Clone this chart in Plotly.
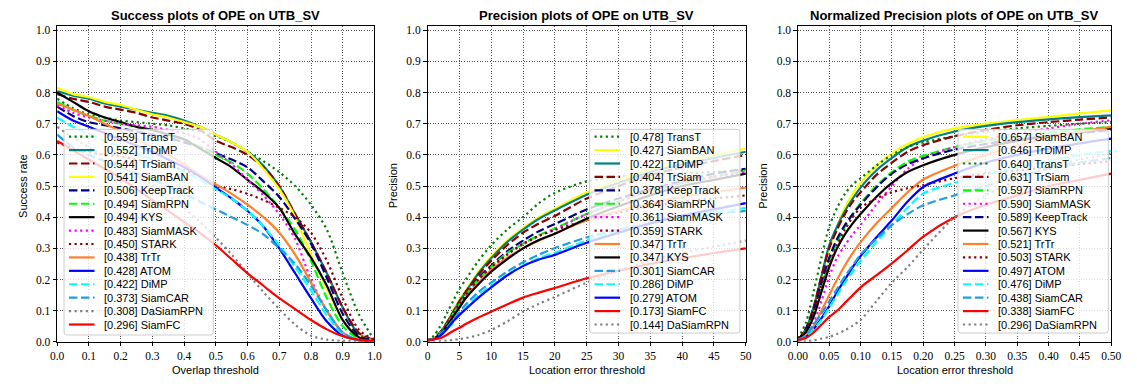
import plotly.graph_objects as go

# ---------------------------------------------------------------- thresholds
succ_x = [0.00, 0.05, 0.10, 0.15, 0.20, 0.25, 0.30, 0.35, 0.40, 0.45, 0.50,
          0.55, 0.60, 0.65, 0.70, 0.75, 0.80, 0.85, 0.90, 0.95, 1.00]
prec_x = [0, 1, 2, 3, 4, 5, 6, 8, 10, 12.5, 15, 17.5, 20, 25, 30, 35, 40, 45, 50]
norm_x = [0, 0.0125, 0.025, 0.0375, 0.05, 0.0625, 0.075, 0.0875, 0.1, 0.125,
          0.15, 0.175, 0.2, 0.25, 0.3, 0.35, 0.4, 0.45, 0.5]

# ---------------------------------------------------------------- success (overlap)
succ_transt = [0.78, 0.75, 0.73, 0.72, 0.71, 0.705, 0.70, 0.695, 0.685, 0.675, 0.66,
               0.64, 0.61, 0.58, 0.545, 0.50, 0.44, 0.36, 0.22, 0.09, 0.005]
succ_trdimp = [0.805, 0.79, 0.78, 0.765, 0.755, 0.745, 0.735, 0.725, 0.71, 0.69, 0.665,
               0.64, 0.61, 0.565, 0.50, 0.41, 0.32, 0.22, 0.11, 0.025, 0.005]
succ_trsiam = [0.795, 0.78, 0.77, 0.755, 0.745, 0.735, 0.72, 0.71, 0.70, 0.68, 0.645,
               0.625, 0.60, 0.56, 0.50, 0.41, 0.32, 0.22, 0.11, 0.03, 0.005]
succ_siamban = [0.815, 0.795, 0.785, 0.77, 0.76, 0.745, 0.73, 0.72, 0.705, 0.69, 0.665,
                0.64, 0.61, 0.555, 0.49, 0.40, 0.28, 0.17, 0.07, 0.02, 0.005]
succ_keeptrack = [0.755, 0.725, 0.705, 0.695, 0.685, 0.675, 0.665, 0.655, 0.64, 0.625, 0.605,
                  0.585, 0.56, 0.515, 0.465, 0.395, 0.315, 0.205, 0.09, 0.02, 0.005]
succ_siamrpn = [0.77, 0.745, 0.725, 0.71, 0.70, 0.69, 0.68, 0.665, 0.65, 0.625, 0.60,
                0.575, 0.54, 0.49, 0.43, 0.36, 0.26, 0.14, 0.05, 0.01, 0.0]
succ_kys = [0.80, 0.77, 0.74, 0.72, 0.705, 0.69, 0.68, 0.665, 0.65, 0.62, 0.59,
            0.56, 0.52, 0.48, 0.43, 0.345, 0.27, 0.18, 0.07, 0.015, 0.0]
succ_siammask = [0.76, 0.735, 0.72, 0.71, 0.70, 0.695, 0.69, 0.68, 0.67, 0.65, 0.61,
                 0.57, 0.52, 0.47, 0.41, 0.33, 0.20, 0.10, 0.03, 0.005, 0.0]
succ_stark = [0.64, 0.62, 0.61, 0.60, 0.595, 0.585, 0.575, 0.565, 0.55, 0.53, 0.50,
              0.49, 0.475, 0.455, 0.43, 0.40, 0.35, 0.26, 0.14, 0.04, 0.005]
succ_trtr = [0.765, 0.745, 0.725, 0.70, 0.675, 0.65, 0.625, 0.60, 0.57, 0.535, 0.505,
             0.475, 0.44, 0.40, 0.35, 0.28, 0.19, 0.10, 0.03, 0.005, 0.0]
succ_atom = [0.74, 0.71, 0.69, 0.67, 0.65, 0.63, 0.61, 0.585, 0.56, 0.53, 0.495,
             0.46, 0.42, 0.37, 0.30, 0.22, 0.14, 0.065, 0.02, 0.005, 0.0]
succ_dimp = [0.72, 0.69, 0.665, 0.645, 0.625, 0.605, 0.585, 0.565, 0.545, 0.52, 0.49,
             0.46, 0.42, 0.37, 0.31, 0.24, 0.165, 0.085, 0.025, 0.005, 0.0]
succ_siamcar = [0.665, 0.625, 0.60, 0.58, 0.56, 0.54, 0.52, 0.50, 0.475, 0.45, 0.425,
                0.40, 0.375, 0.345, 0.30, 0.25, 0.18, 0.10, 0.03, 0.005, 0.0]
succ_dasiamrpn = [0.69, 0.655, 0.625, 0.595, 0.565, 0.535, 0.505, 0.47, 0.43, 0.385, 0.335,
                  0.28, 0.22, 0.16, 0.105, 0.055, 0.02, 0.007, 0.003, 0.001, 0.0]
succ_siamfc = [0.645, 0.615, 0.585, 0.555, 0.525, 0.49, 0.455, 0.42, 0.385, 0.35, 0.31,
               0.265, 0.22, 0.18, 0.14, 0.105, 0.07, 0.04, 0.018, 0.007, 0.003]

# ---------------------------------------------------------------- precision (pixels)
prec_transt = [0.005, 0.02, 0.05, 0.09, 0.13, 0.17, 0.20, 0.26, 0.31, 0.36, 0.40, 0.445, 0.478,
               0.515, 0.53, 0.535, 0.54, 0.545, 0.55]
prec_siamban = [0.005, 0.01, 0.03, 0.06, 0.10, 0.135, 0.165, 0.225, 0.275, 0.325, 0.365, 0.40, 0.427,
                0.48, 0.52, 0.555, 0.58, 0.60, 0.62]
prec_trdimp = [0.005, 0.01, 0.03, 0.06, 0.095, 0.13, 0.16, 0.22, 0.268, 0.32, 0.36, 0.395, 0.422,
               0.472, 0.51, 0.545, 0.57, 0.59, 0.61]
prec_trsiam = [0.005, 0.01, 0.03, 0.06, 0.095, 0.13, 0.16, 0.215, 0.26, 0.31, 0.35, 0.38, 0.404,
               0.46, 0.50, 0.535, 0.56, 0.58, 0.60]
prec_keeptrack = [0.005, 0.01, 0.03, 0.055, 0.09, 0.12, 0.15, 0.205, 0.245, 0.29, 0.325, 0.355, 0.378,
                  0.425, 0.46, 0.49, 0.515, 0.54, 0.555]
prec_siamrpn = [0.005, 0.01, 0.03, 0.055, 0.09, 0.12, 0.15, 0.20, 0.24, 0.285, 0.315, 0.342, 0.364,
                0.41, 0.45, 0.485, 0.51, 0.53, 0.55]
prec_siammask = [0.005, 0.01, 0.028, 0.052, 0.085, 0.115, 0.145, 0.195, 0.235, 0.28, 0.312, 0.34, 0.361,
                 0.41, 0.45, 0.485, 0.51, 0.53, 0.545]
prec_stark = [0.005, 0.012, 0.03, 0.056, 0.09, 0.12, 0.15, 0.20, 0.24, 0.28, 0.315, 0.34, 0.359,
              0.39, 0.415, 0.435, 0.45, 0.46, 0.47]
prec_trtr = [0.005, 0.01, 0.025, 0.05, 0.08, 0.11, 0.14, 0.19, 0.23, 0.27, 0.30, 0.325, 0.347,
             0.39, 0.42, 0.445, 0.465, 0.48, 0.495]
prec_kys = [0.005, 0.01, 0.025, 0.05, 0.08, 0.11, 0.14, 0.185, 0.225, 0.265, 0.30, 0.327, 0.347,
            0.395, 0.435, 0.47, 0.50, 0.52, 0.54]
prec_siamcar = [0.005, 0.01, 0.025, 0.045, 0.07, 0.095, 0.12, 0.16, 0.19, 0.225, 0.255, 0.28, 0.301,
                0.335, 0.36, 0.38, 0.395, 0.41, 0.42]
prec_dimp = [0.005, 0.01, 0.02, 0.04, 0.06, 0.085, 0.11, 0.15, 0.18, 0.215, 0.245, 0.268, 0.286,
             0.325, 0.355, 0.38, 0.40, 0.415, 0.43]
prec_atom = [0.005, 0.008, 0.02, 0.04, 0.065, 0.086, 0.105, 0.142, 0.175, 0.213, 0.243, 0.264, 0.279,
             0.318, 0.35, 0.38, 0.405, 0.425, 0.445]
prec_siamfc = [0.005, 0.008, 0.012, 0.022, 0.035, 0.045, 0.057, 0.078, 0.097, 0.12, 0.142, 0.158, 0.173,
               0.204, 0.228, 0.25, 0.268, 0.285, 0.30]
prec_dasiamrpn = [0.0, 0.0, 0.002, 0.004, 0.006, 0.009, 0.012, 0.022, 0.038, 0.065, 0.097, 0.122, 0.144,
                  0.19, 0.23, 0.26, 0.285, 0.305, 0.325]

# ---------------------------------------------------------------- normalized precision
norm_siamban = [0.005, 0.03, 0.10, 0.20, 0.30, 0.37, 0.43, 0.475, 0.51, 0.565, 0.605, 0.635, 0.657,
                0.685, 0.70, 0.712, 0.722, 0.733, 0.743]
norm_trdimp = [0.005, 0.04, 0.11, 0.21, 0.31, 0.37, 0.42, 0.46, 0.495, 0.55, 0.59, 0.625, 0.646,
               0.675, 0.693, 0.705, 0.714, 0.721, 0.727]
norm_transt = [0.01, 0.06, 0.16, 0.27, 0.37, 0.43, 0.475, 0.505, 0.525, 0.565, 0.60, 0.625, 0.640,
               0.66, 0.675, 0.685, 0.693, 0.70, 0.705]
norm_trsiam = [0.005, 0.04, 0.11, 0.21, 0.30, 0.36, 0.41, 0.45, 0.48, 0.535, 0.575, 0.61, 0.631,
               0.66, 0.68, 0.695, 0.705, 0.713, 0.72]
norm_siamrpn = [0.005, 0.03, 0.09, 0.18, 0.26, 0.32, 0.37, 0.41, 0.445, 0.50, 0.545, 0.578, 0.597,
                0.625, 0.645, 0.66, 0.672, 0.682, 0.69]
norm_siammask = [0.005, 0.02, 0.06, 0.13, 0.21, 0.27, 0.31, 0.345, 0.375, 0.44, 0.50, 0.555, 0.590,
                 0.625, 0.65, 0.67, 0.685, 0.70, 0.711]
norm_keeptrack = [0.005, 0.04, 0.10, 0.19, 0.27, 0.33, 0.375, 0.41, 0.44, 0.495, 0.54, 0.57, 0.589,
                  0.617, 0.635, 0.65, 0.66, 0.67, 0.68]
norm_kys = [0.005, 0.03, 0.08, 0.16, 0.24, 0.30, 0.345, 0.38, 0.41, 0.465, 0.51, 0.545, 0.567,
            0.60, 0.625, 0.645, 0.66, 0.672, 0.685]
norm_trtr = [0.005, 0.02, 0.05, 0.10, 0.15, 0.20, 0.245, 0.285, 0.32, 0.38, 0.43, 0.48, 0.521,
             0.565, 0.60, 0.63, 0.655, 0.675, 0.69]
norm_stark = [0.01, 0.04, 0.10, 0.18, 0.25, 0.31, 0.36, 0.40, 0.43, 0.46, 0.48, 0.493, 0.503,
              0.525, 0.54, 0.55, 0.56, 0.57, 0.58]
norm_atom = [0.005, 0.015, 0.04, 0.075, 0.115, 0.16, 0.20, 0.24, 0.275, 0.335, 0.39, 0.45, 0.497,
             0.54, 0.575, 0.60, 0.62, 0.637, 0.652]
norm_dimp = [0.005, 0.015, 0.04, 0.07, 0.11, 0.15, 0.19, 0.225, 0.26, 0.32, 0.375, 0.43, 0.476,
             0.51, 0.535, 0.56, 0.58, 0.60, 0.613]
norm_siamcar = [0.005, 0.02, 0.055, 0.09, 0.13, 0.17, 0.21, 0.245, 0.28, 0.33, 0.375, 0.41, 0.438,
                0.47, 0.50, 0.53, 0.555, 0.575, 0.59]
norm_siamfc = [0.005, 0.012, 0.03, 0.055, 0.08, 0.10, 0.125, 0.15, 0.175, 0.213, 0.252, 0.294, 0.338,
               0.40, 0.44, 0.47, 0.50, 0.52, 0.54]
norm_dasiamrpn = [0.0, 0.002, 0.005, 0.01, 0.016, 0.025, 0.037, 0.052, 0.07, 0.13, 0.19, 0.24, 0.296,
                  0.40, 0.47, 0.52, 0.56, 0.585, 0.605]

# ---------------------------------------------------------------- legend order and scores
succ_order = ["TransT", "TrDiMP", "TrSiam", "SiamBAN", "KeepTrack", "SiamRPN", "KYS", "SiamMASK",
              "STARK", "TrTr", "ATOM", "DiMP", "SiamCAR", "DaSiamRPN", "SiamFC"]
succ_scores = [0.559, 0.552, 0.544, 0.541, 0.506, 0.494, 0.494, 0.483,
               0.450, 0.438, 0.428, 0.422, 0.373, 0.308, 0.296]
prec_order = ["TransT", "SiamBAN", "TrDiMP", "TrSiam", "KeepTrack", "SiamRPN", "SiamMASK", "STARK",
              "TrTr", "KYS", "SiamCAR", "DiMP", "ATOM", "SiamFC", "DaSiamRPN"]
prec_scores = [0.478, 0.427, 0.422, 0.404, 0.378, 0.364, 0.361, 0.359,
               0.347, 0.347, 0.301, 0.286, 0.279, 0.173, 0.144]
norm_order = ["SiamBAN", "TrDiMP", "TransT", "TrSiam", "SiamRPN", "SiamMASK", "KeepTrack", "KYS",
              "TrTr", "STARK", "ATOM", "DiMP", "SiamCAR", "SiamFC", "DaSiamRPN"]
norm_scores = [0.657, 0.646, 0.640, 0.631, 0.597, 0.590, 0.589, 0.567,
               0.521, 0.503, 0.497, 0.476, 0.438, 0.338, 0.296]

succ_curves = {"TransT": succ_transt, "TrDiMP": succ_trdimp, "TrSiam": succ_trsiam,
               "SiamBAN": succ_siamban, "KeepTrack": succ_keeptrack, "SiamRPN": succ_siamrpn,
               "KYS": succ_kys, "SiamMASK": succ_siammask, "STARK": succ_stark, "TrTr": succ_trtr,
               "ATOM": succ_atom, "DiMP": succ_dimp, "SiamCAR": succ_siamcar,
               "DaSiamRPN": succ_dasiamrpn, "SiamFC": succ_siamfc}
prec_curves = {"TransT": prec_transt, "TrDiMP": prec_trdimp, "TrSiam": prec_trsiam,
               "SiamBAN": prec_siamban, "KeepTrack": prec_keeptrack, "SiamRPN": prec_siamrpn,
               "KYS": prec_kys, "SiamMASK": prec_siammask, "STARK": prec_stark, "TrTr": prec_trtr,
               "ATOM": prec_atom, "DiMP": prec_dimp, "SiamCAR": prec_siamcar,
               "DaSiamRPN": prec_dasiamrpn, "SiamFC": prec_siamfc}
norm_curves = {"TransT": norm_transt, "TrDiMP": norm_trdimp, "TrSiam": norm_trsiam,
               "SiamBAN": norm_siamban, "KeepTrack": norm_keeptrack, "SiamRPN": norm_siamrpn,
               "KYS": norm_kys, "SiamMASK": norm_siammask, "STARK": norm_stark, "TrTr": norm_trtr,
               "ATOM": norm_atom, "DiMP": norm_dimp, "SiamCAR": norm_siamcar,
               "DaSiamRPN": norm_dasiamrpn, "SiamFC": norm_siamfc}

# ---------------------------------------------------------------- styling per tracker
DOT = "2.2px,3.4px"
DASH = "8.5px,3.5px"
STYLE = {
    "TransT": ("#008000", DOT),
    "TrDiMP": ("#008080", "solid"),
    "TrSiam": ("#8b0000", DASH),
    "SiamBAN": ("#ffff00", "solid"),
    "KeepTrack": ("#000080", DASH),
    "SiamRPN": ("#00ff00", DASH),
    "KYS": ("#000000", "solid"),
    "SiamMASK": ("#ff00ff", DOT),
    "STARK": ("#8b0000", DOT),
    "TrTr": ("#ff7f2a", "solid"),
    "ATOM": ("#0000ff", "solid"),
    "DiMP": ("#00ffff", DASH),
    "SiamCAR": ("#1f9fe0", DASH),
    "DaSiamRPN": ("#808080", DOT),
    "SiamFC": ("#ff0000", "solid"),
}
LW = 2.2

W, H = 1137, 388
def fx(p):
    return p / W
def fy(p):
    return 1 - p / H

PLOT_TOP, PLOT_BOTTOM = 25, 347
panels = [
    dict(suffix="", left=48, right=371, title="Success plots of OPE on UTB_SV",
         xtitle="Overlap threshold", ytitle="Success rate", ytitle_x=13,
         xs=succ_x, curves=succ_curves, order=succ_order, scores=succ_scores,
         xrange=[0, 1], dtick=0.1, tickformat=".1f",
         legend=(55, 207, 130, 340)),
    dict(suffix="2", left=425, right=749, title="Precision plots of OPE on UTB_SV",
         xtitle="Location error threshold", ytitle="Precision", ytitle_x=390,
         xs=prec_x, curves=prec_curves, order=prec_order, scores=prec_scores,
         xrange=[0, 50], dtick=5, tickformat="d",
         legend=(590, 743, 130, 338)),
    dict(suffix="3", left=802, right=1121, title="Normalized Precision plots of OPE on UTB_SV",
         xtitle="Location error threshold", ytitle="Precision", ytitle_x=767,
         xs=norm_x, curves=norm_curves, order=norm_order, scores=norm_scores,
         xrange=[0, 0.5], dtick=0.05, tickformat=".2f",
         legend=(965, 1118, 130, 338)),
]

axis_common = dict(
    showline=True, linecolor="black", linewidth=1, mirror=True,
    ticks="outside", ticklen=3.5, tickwidth=0.8, tickcolor="black",
    showgrid=True, gridcolor="#555555", griddash="1px,1.6px", gridwidth=0.8,
    zeroline=False,
    tickfont=dict(family="Liberation Serif", size=11.5, color="black"),
)

fig = go.Figure()
shapes = []
annotations = []

for p in panels:
    xa = "x" + p["suffix"]
    ya = "y" + p["suffix"]
    # curves
    for name in p["order"]:
        color, dash = STYLE[name]
        fig.add_trace(go.Scatter(
            x=p["xs"], y=p["curves"][name], mode="lines", name=name,
            line=dict(color=color, width=LW, dash=dash, shape="spline", smoothing=0.8),
            xaxis=xa, yaxis=ya, showlegend=False, hoverinfo="skip"))

    dom_x = [fx(p["left"]), fx(p["right"])]
    dom_y = [fy(PLOT_BOTTOM), fy(PLOT_TOP)]
    fig.update_layout({
        "xaxis" + p["suffix"]: dict(axis_common, domain=dom_x, range=p["xrange"],
                                    tick0=0, dtick=p["dtick"], tickformat=p["tickformat"],
                                    anchor=ya),
        "yaxis" + p["suffix"]: dict(axis_common, domain=dom_y, range=[0, 1.012],
                                    tick0=0, dtick=0.1, tickformat=".1f", anchor=xa),
    })

    cx = (p["left"] + p["right"]) / 2
    annotations.append(dict(
        text="<b>" + p["title"] + "</b>", x=fx(cx), y=fy(14), xref="paper", yref="paper",
        showarrow=False, xanchor="center", yanchor="middle",
        font=dict(family="Liberation Sans", size=13, color="black")))
    annotations.append(dict(
        text=p["xtitle"], x=fx(cx), y=fy(376), xref="paper", yref="paper",
        showarrow=False, xanchor="center", yanchor="middle",
        font=dict(family="Liberation Sans", size=11, color="black")))
    annotations.append(dict(
        text=p["ytitle"], x=fx(p["ytitle_x"]), y=fy((PLOT_TOP + PLOT_BOTTOM) / 2 + 2),
        xref="paper", yref="paper", textangle=-90,
        showarrow=False, xanchor="center", yanchor="middle",
        font=dict(family="Liberation Sans", size=11, color="black")))

    # legend box (semi-transparent, rounded)
    lx0, lx1, ly0, ly1 = p["legend"]
    r = 3
    path = (f"M {fx(lx0 + r)},{fy(ly0)} L {fx(lx1 - r)},{fy(ly0)} "
            f"Q {fx(lx1)},{fy(ly0)} {fx(lx1)},{fy(ly0 + r)} "
            f"L {fx(lx1)},{fy(ly1 - r)} Q {fx(lx1)},{fy(ly1)} {fx(lx1 - r)},{fy(ly1)} "
            f"L {fx(lx0 + r)},{fy(ly1)} Q {fx(lx0)},{fy(ly1)} {fx(lx0)},{fy(ly1 - r)} "
            f"L {fx(lx0)},{fy(ly0 + r)} Q {fx(lx0)},{fy(ly0)} {fx(lx0 + r)},{fy(ly0)} Z")
    shapes.append(dict(type="path", path=path, xref="paper", yref="paper",
                       fillcolor="rgba(255,255,255,0.8)",
                       line=dict(color="#cccccc", width=1), layer="above"))
    row0, step = ly0 + 7.5, 13.7
    for i, (name, score) in enumerate(zip(p["order"], p["scores"])):
        color, dash = STYLE[name]
        yy = row0 + i * step
        shapes.append(dict(type="line", xref="paper", yref="paper",
                           x0=fx(lx0 + 5), x1=fx(lx0 + 31), y0=fy(yy), y1=fy(yy),
                           line=dict(color=color, width=LW, dash=dash), layer="above"))
        annotations.append(dict(
            text=f"[{score:.3f}] {name}", x=fx(lx0 + 39), y=fy(yy), xref="paper", yref="paper",
            showarrow=False, xanchor="left", yanchor="middle",
            font=dict(family="Liberation Sans", size=11, color="black")))

fig.update_layout(
    width=W, height=H, margin=dict(l=0, r=0, t=0, b=0),
    plot_bgcolor="white", paper_bgcolor="white", showlegend=False,
    shapes=shapes, annotations=annotations,
)

fig.write_html("out.html")
